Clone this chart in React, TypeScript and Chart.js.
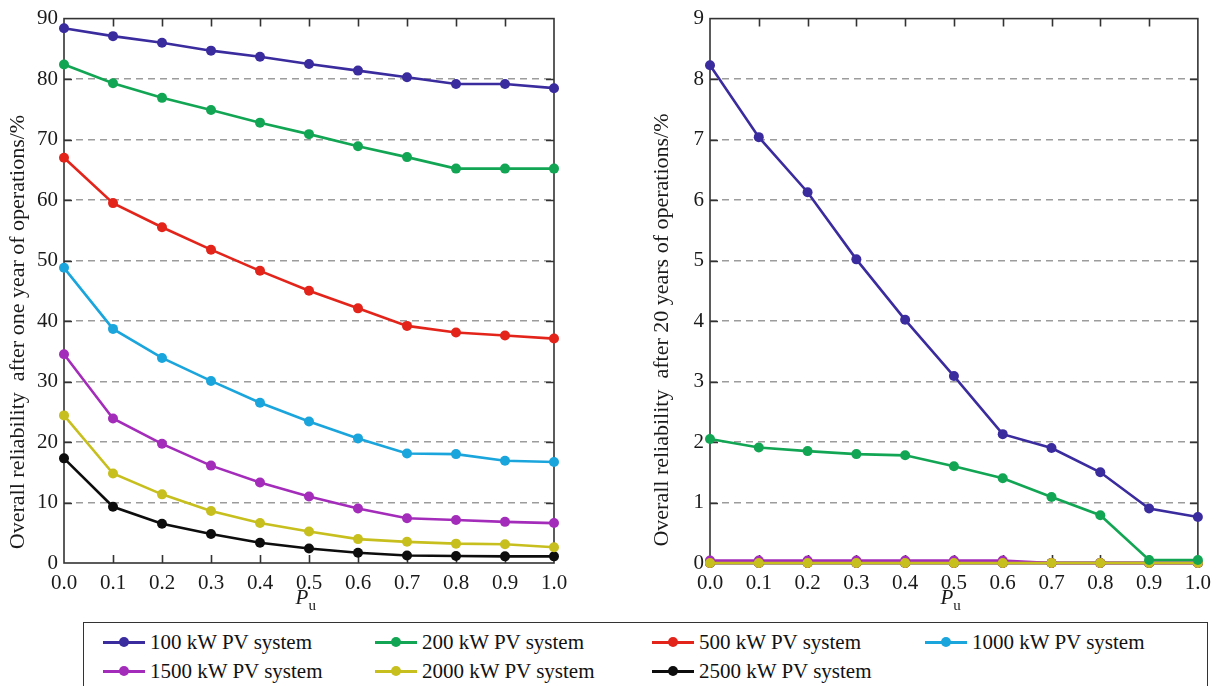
import React, { useEffect, useRef } from "react";
import { Chart, registerables } from "chart.js";

Chart.register(...registerables);

// ---------- data ----------
const puLabels = ["0.0", "0.1", "0.2", "0.3", "0.4", "0.5", "0.6", "0.7", "0.8", "0.9", "1.0"];

const seriesNames = [
  "100 kW PV system",
  "200 kW PV system",
  "500 kW PV system",
  "1000 kW PV system",
  "1500 kW PV system",
  "2000 kW PV system",
  "2500 kW PV system",
];

const seriesColors = ["#3a2b9e", "#12a654", "#e3241b", "#1aa5dc", "#a42cba", "#c7bf1d", "#0d0d0d"];

// Overall reliability after one year of operations (%)
const oneYear100 = [88.4, 87.1, 86.0, 84.7, 83.7, 82.5, 81.4, 80.3, 79.2, 79.2, 78.5];
const oneYear200 = [82.4, 79.3, 76.9, 74.9, 72.8, 70.9, 68.9, 67.1, 65.2, 65.2, 65.2];
const oneYear500 = [67.0, 59.5, 55.5, 51.8, 48.3, 45.0, 42.1, 39.2, 38.1, 37.6, 37.1];
const oneYear1000 = [48.8, 38.7, 33.9, 30.1, 26.5, 23.4, 20.6, 18.1, 18.0, 16.9, 16.7];
const oneYear1500 = [34.5, 23.9, 19.7, 16.1, 13.3, 11.0, 9.0, 7.4, 7.1, 6.8, 6.6];
const oneYear2000 = [24.4, 14.8, 11.35, 8.6, 6.6, 5.2, 3.95, 3.5, 3.2, 3.1, 2.6];
const oneYear2500 = [17.3, 9.3, 6.5, 4.8, 3.35, 2.4, 1.7, 1.25, 1.15, 1.1, 1.1];

// Overall reliability after 20 years of operations (%)
const twenty100 = [8.23, 7.04, 6.13, 5.02, 4.02, 3.09, 2.13, 1.9, 1.5, 0.9, 0.76];
const twenty200 = [2.05, 1.91, 1.85, 1.8, 1.78, 1.6, 1.4, 1.09, 0.79, 0.05, 0.05];
const twenty500 = [0, 0, 0, 0, 0, 0, 0, 0, 0, 0, 0];
const twenty1000 = [0, 0, 0, 0, 0, 0, 0, 0, 0, 0, 0];
const twenty1500 = [0.04, 0.04, 0.04, 0.04, 0.04, 0.04, 0.04, 0, 0, 0, 0];
const twenty2000 = [0, 0, 0, 0, 0, 0, 0, 0, 0, 0, 0];
const twenty2500 = [0, 0, 0, 0, 0, 0, 0, 0, 0, 0, 0];

const leftTicks = { min: 0, max: 90, step: 10 };
const rightTicks = { min: 0, max: 9, step: 1 };

const leftTitle = "Overall reliability  after one year of operations/%";
const rightTitle = "Overall reliability  after 20 years of operations/%";

const FONT = "'Liberation Serif', 'Times New Roman', serif";

// ---------- plugins ----------
const framePlugin = {
  id: "frameTicks",
  beforeDatasetsDraw(chart: any) {
    const { ctx, chartArea: a, scales } = chart;
    ctx.save();
    ctx.strokeStyle = "#333";
    ctx.lineWidth = 1.6;
    const L = 8;
    ctx.beginPath();
    const xs = scales.x;
    for (let i = 1; i < xs.ticks.length - 1; i++) {
      const px = Math.round(xs.getPixelForTick(i)) + 0.5;
      ctx.moveTo(px, a.top);
      ctx.lineTo(px, a.top + L);
      ctx.moveTo(px, a.bottom);
      ctx.lineTo(px, a.bottom - L);
    }
    const ys = scales.y;
    for (let i = 1; i < ys.ticks.length - 1; i++) {
      const py = Math.round(ys.getPixelForTick(i)) + 0.5;
      ctx.moveTo(a.left, py);
      ctx.lineTo(a.left + L, py);
      ctx.moveTo(a.right, py);
      ctx.lineTo(a.right - L, py);
    }
    ctx.stroke();
    ctx.strokeRect(a.left, a.top, a.right - a.left, a.bottom - a.top);
    ctx.restore();
  },
};

const titlesPlugin = {
  id: "axisTitles",
  afterDraw(chart: any, _args: any, opts: any) {
    const { ctx, chartArea: a } = chart;
    ctx.save();
    ctx.fillStyle = "#1a1a1a";
    // y title
    ctx.translate(opts.yX, opts.yY);
    ctx.rotate(-Math.PI / 2);
    ctx.font = `22px ${FONT}`;
    ctx.textAlign = "center";
    ctx.textBaseline = "middle";
    ctx.fillText(opts.yText, 0, 0);
    ctx.restore();
    // x title: P (italic) with subscript u
    ctx.save();
    ctx.fillStyle = "#1a1a1a";
    const cx = (a.left + a.right) / 2 - 4;
    ctx.textBaseline = "alphabetic";
    ctx.textAlign = "left";
    ctx.font = `italic 21px ${FONT}`;
    const pw = ctx.measureText("P").width;
    ctx.fillText("P", cx - pw / 2 - 3, a.bottom + 41);
    ctx.font = `15px ${FONT}`;
    ctx.fillText("u", cx + pw / 2 - 3, a.bottom + 47);
    ctx.restore();
  },
};

function makeDatasets(values: number[][], orders: number[]) {
  return values.map((data, i) => ({
    label: seriesNames[i],
    data,
    borderColor: seriesColors[i],
    backgroundColor: seriesColors[i],
    pointBackgroundColor: seriesColors[i],
    pointBorderColor: seriesColors[i],
    borderWidth: 2.6,
    pointRadius: 5,
    pointBorderWidth: 0,
    pointHoverRadius: 5,
    tension: 0,
    clip: false as any,
    order: orders[i],
  }));
}

function makeConfig(
  values: number[][],
  orders: number[],
  t: { min: number; max: number; step: number },
  yAxisWidth: number,
  padRight: number,
  title: { yText: string; yX: number; yY: number }
): any {
  return {
    type: "line",
    data: { labels: puLabels, datasets: makeDatasets(values, orders) },
    plugins: [framePlugin, titlesPlugin],
    options: {
      responsive: false,
      animation: false,
      events: [],
      layout: { padding: { top: 16, right: padRight, left: 0, bottom: 0 } },
      plugins: {
        legend: { display: false },
        tooltip: { enabled: false },
        axisTitles: title,
      },
      scales: {
        x: {
          type: "category",
          offset: false,
          afterFit(scale: any) {
            scale.height = 57;
          },
          grid: { display: false, drawTicks: false },
          border: { display: false },
          ticks: {
            padding: 8,
            color: "#1a1a1a",
            font: { family: FONT, size: 21 },
            maxRotation: 0,
            autoSkip: false,
          },
        },
        y: {
          min: t.min,
          max: t.max,
          afterFit(scale: any) {
            scale.width = yAxisWidth;
          },
          grid: {
            drawTicks: false,
            lineWidth: 1.5,
            color: (c: any) =>
              c.tick && (c.tick.value === t.min || c.tick.value === t.max) ? "rgba(0,0,0,0)" : "#9c9c9c",
          },
          border: { display: false, dash: [7, 5] },
          ticks: {
            stepSize: t.step,
            padding: 6,
            color: "#1a1a1a",
            font: { family: FONT, size: 21 },
          },
        },
      },
    },
  };
}

function ChartCanvas({ config, left, width, height }: { config: any; left: number; width: number; height: number }) {
  const ref = useRef<HTMLCanvasElement>(null);
  useEffect(() => {
    if (!ref.current) return;
    const chart = new Chart(ref.current, config);
    return () => chart.destroy();
  }, [config]);
  return (
    <canvas
      ref={ref}
      width={width}
      height={height}
      style={{ position: "absolute", left, top: 0, width, height }}
    />
  );
}

const leftConfig = makeConfig(
  [oneYear100, oneYear200, oneYear500, oneYear1000, oneYear1500, oneYear2000, oneYear2500],
  [0, 1, 2, 3, 4, 5, 6],
  leftTicks,
  64,
  56,
  { yText: leftTitle, yX: 18, yY: 332 }
);

const rightConfig = makeConfig(
  [twenty100, twenty200, twenty500, twenty1000, twenty1500, twenty2000, twenty2500],
  [0, 1, 4, 5, 3, 2, 6],
  rightTicks,
  100,
  19,
  { yText: rightTitle, yX: 52, yY: 330 }
);

const legendCols = [103, 375, 652, 925];
const legendRows = [642, 671];

function Legend() {
  return (
    <>
      <div
        style={{
          position: "absolute",
          left: 83,
          top: 622,
          width: 1125,
          height: 80,
          border: "1.5px solid #333",
          boxSizing: "border-box",
        }}
      />
      {seriesNames.map((name, i) => {
        const col = i % 4;
        const row = Math.floor(i / 4);
        const x = legendCols[col];
        const y = legendRows[row];
        return (
          <div key={name} style={{ position: "absolute", left: x, top: y - 15, height: 30, width: 260 }}>
            <div
              style={{
                position: "absolute",
                left: 0,
                top: 14,
                width: 42,
                height: 2.6,
                background: seriesColors[i],
              }}
            />
            <div
              style={{
                position: "absolute",
                left: 16,
                top: 10,
                width: 10,
                height: 10,
                borderRadius: "50%",
                background: seriesColors[i],
              }}
            />
            <span
              style={{
                position: "absolute",
                left: 47,
                top: 0,
                lineHeight: "30px",
                fontFamily: FONT,
                fontSize: 21,
                color: "#111",
                whiteSpace: "nowrap",
              }}
            >
              {name}
            </span>
          </div>
        );
      })}
    </>
  );
}

export default function App() {
  return (
    <div
      style={{
        position: "absolute",
        left: 0,
        top: 0,
        width: 1219,
        height: 686,
        overflow: "hidden",
        background: "#fff",
      }}
    >
      <ChartCanvas config={leftConfig} left={0} width={610} height={620} />
      <ChartCanvas config={rightConfig} left={610} width={609} height={620} />
      <Legend />
    </div>
  );
}
